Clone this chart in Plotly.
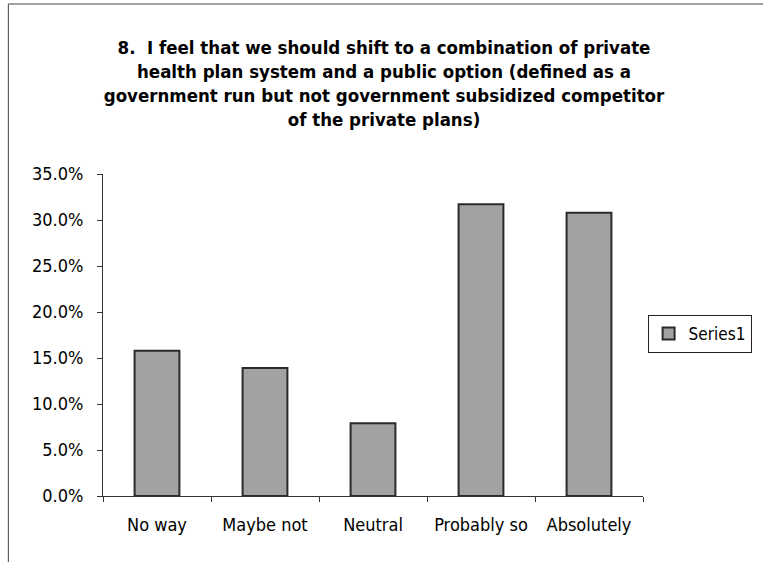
import plotly.graph_objects as go

categories = ["No way", "Maybe not", "Neutral", "Probably so", "Absolutely"]
series1 = [0.158, 0.139, 0.079, 0.317, 0.308]
series_name = "Series1"
title_lines = [
    "8.  I feel that we should shift to a combination of private",
    "health plan system and a public option (defined as a",
    "government run but not government subsidized competitor",
    "of the private plans)",
]

FONT = "DejaVu Sans Condensed, DejaVu Sans, sans-serif"

W, H = 763, 562
L, R, T, B = 103, 118, 174, 66
pw, ph = W - L - R, H - T - B

def px_x(x):
    return (x - L) / pw

def px_y(y):
    return (H - B - y) / ph

fig = go.Figure()
fig.add_trace(go.Bar(
    x=categories, y=series1, name=series_name,
    marker=dict(color="#a2a2a2", line=dict(color="#2a2a2a", width=2)),
    showlegend=True,
))

fig.update_layout(
    width=W, height=H,
    margin=dict(l=L, r=R, t=T, b=B, pad=0),
    paper_bgcolor="white", plot_bgcolor="white",
    font=dict(family=FONT, color="black", size=18),
    bargap=0.585,
    title=dict(
        text="<b>" + "<br>".join(title_lines) + "</b>",
        x=384 / W, xanchor="center",
        y=1 - 54 / H, yanchor="top", yref="container",
        font=dict(family=FONT, size=18.5, color="black"),
    ),
    xaxis=dict(
        showline=True, linecolor="#333", linewidth=1,
        ticks="outside", ticklen=5, tickcolor="#333", tickson="boundaries",
        showgrid=False, ticklabelstandoff=12,
        tickfont=dict(family=FONT, size=18),
    ),
    yaxis=dict(
        range=[0, 0.35], dtick=0.05, tickformat=".1%",
        showline=True, linecolor="#333", linewidth=1,
        ticks="outside", ticklen=5, tickcolor="#333",
        showgrid=False, zeroline=False, ticklabelstandoff=10,
        tickfont=dict(family=FONT, size=18),
    ),
    legend=dict(
        x=px_x(754), xanchor="right", y=px_y(334), yanchor="middle",
        bordercolor="#222", borderwidth=1, bgcolor="white",
        font=dict(family=FONT, size=17),
        itemwidth=30,
    ),
    shapes=[dict(
        type="rect", xref="paper", yref="paper",
        x0=px_x(8), x1=px_x(775), y0=px_y(575), y1=px_y(4),
        line=dict(color="#444", width=1), fillcolor="rgba(0,0,0,0)", layer="below",
    )],
)

fig.write_html(
    "out.html",
    config={"displayModeBar": False},
    post_script="document.body.style.margin='0';document.body.style.overflow='hidden';",
)
